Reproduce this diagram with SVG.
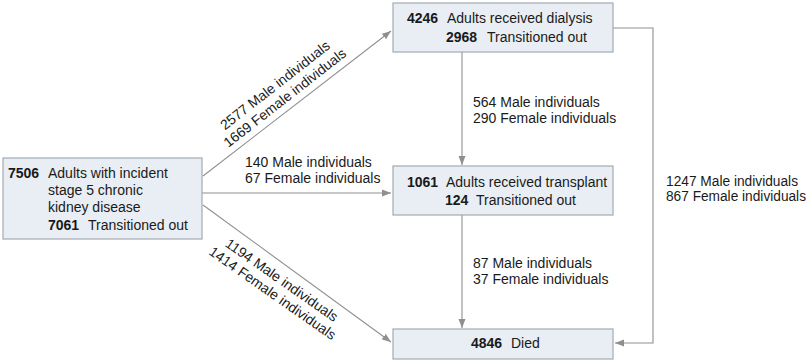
<svg xmlns="http://www.w3.org/2000/svg" width="810" height="363" viewBox="0 0 810 363">
<style>
text{font-family:"Liberation Sans",Arial,sans-serif;font-size:14px;fill:#1a1a1a}
.b{font-weight:bold}
.box{fill:#e8eef3;stroke:#a3abb3;stroke-width:1.2}
.c{fill:none;stroke:#8f8f8f;stroke-width:1.1}
</style>
<defs>
<marker id="ah" markerUnits="userSpaceOnUse" markerWidth="10" markerHeight="8" refX="9" refY="4" orient="auto">
<path d="M0,0.5 L9,4 L0,7.5 Z" fill="#8f8f8f"/>
</marker>
</defs>
<rect width="810" height="363" fill="#ffffff"/>
<g id="connectors">
<line class="c" x1="203" y1="176" x2="391" y2="31" marker-end="url(#ah)"/>
<line class="c" x1="202" y1="193" x2="391" y2="193" marker-end="url(#ah)"/>
<line class="c" x1="203" y1="205" x2="391" y2="342" marker-end="url(#ah)"/>
<line class="c" x1="462" y1="52" x2="462" y2="165" marker-end="url(#ah)"/>
<line class="c" x1="462" y1="215" x2="462" y2="328" marker-end="url(#ah)"/>
<polyline class="c" points="613,28 653,28 653,343 615,343" marker-end="url(#ah)"/>
<g id="label-upper" transform="translate(278,89) rotate(-38)">
<text x="0" y="0" text-anchor="middle">2577 Male individuals</text>
<text x="0" y="16" text-anchor="middle">1669 Female individuals</text>
</g>
<g id="label-mid">
<text x="245" y="167">140 Male individuals</text>
<text x="245" y="183">67 Female individuals</text>
</g>
<g id="label-lower" transform="translate(279,284) rotate(35)">
<text x="0" y="0" text-anchor="middle">1194 Male individuals</text>
<text x="0" y="16" text-anchor="middle">1414 Female individuals</text>
</g>
<g id="label-d2t">
<text x="473" y="107">564 Male individuals</text>
<text x="473" y="123">290 Female individuals</text>
</g>
<g id="label-t2d">
<text x="473" y="268">87 Male individuals</text>
<text x="473" y="284">37 Female individuals</text>
</g>
<g id="label-d2d">
<text x="666" y="186" textLength="132" lengthAdjust="spacingAndGlyphs">1247 Male individuals</text>
<text x="666" y="201" textLength="140" lengthAdjust="spacingAndGlyphs">867 Female individuals</text>
</g>
</g>
<g id="ckd">
<rect class="box" x="3" y="158" width="199" height="81"/>
<text x="8" y="178"><tspan class="b">7506</tspan><tspan x="48">Adults with incident</tspan></text>
<text x="48" y="195">stage 5 chronic</text>
<text x="48" y="212">kidney disease</text>
<text x="48" y="230"><tspan class="b">7061</tspan><tspan x="88">Transitioned out</tspan></text>
</g>
<g id="dialysis">
<rect class="box" x="393" y="3" width="220" height="49"/>
<text x="407" y="23"><tspan class="b">4246</tspan><tspan x="447">Adults received dialysis</tspan></text>
<text x="446" y="42"><tspan class="b">2968</tspan><tspan x="487">Transitioned out</tspan></text>
</g>
<g id="transplant">
<rect class="box" x="393" y="166" width="220" height="49"/>
<text x="407" y="187"><tspan class="b">1061</tspan><tspan x="446">Adults received transplant</tspan></text>
<text x="445" y="205"><tspan class="b">124</tspan><tspan x="476">Transitioned out</tspan></text>
</g>
<g id="died">
<rect class="box" x="393" y="329" width="220" height="30"/>
<text x="471" y="348"><tspan class="b">4846</tspan><tspan x="511">Died</tspan></text>
</g>
</svg>
